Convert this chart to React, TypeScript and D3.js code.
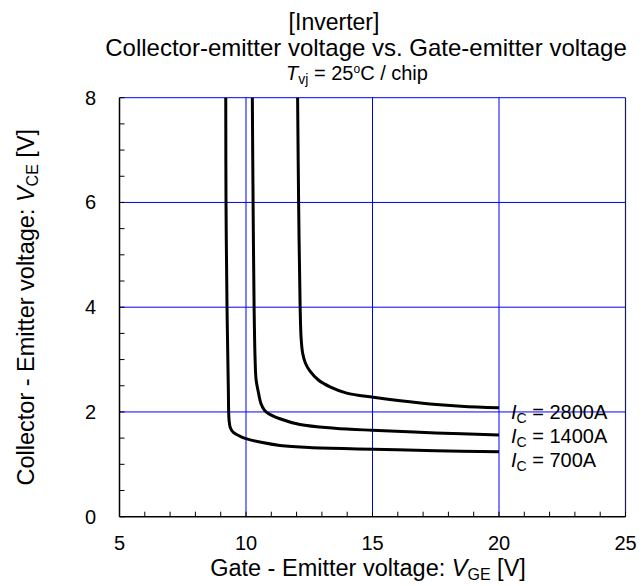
import React from "react";
import * as d3 from "d3";

const xTicks = [5, 10, 15, 20, 25];
const yTicks = [0, 2, 4, 6, 8];
const xGrid = [10, 15, 20];
const yGrid = [2, 4, 6, 8];

const curve700: [number, number][] = [
  [9.2, 8], [9.21, 6], [9.25, 4], [9.3, 2.5], [9.33, 1.85], [9.38, 1.7], [9.5, 1.61], [9.75, 1.54], [10, 1.49],
  [10.6, 1.42], [11.34, 1.36], [12.5, 1.32], [15, 1.29], [17.5, 1.26], [20, 1.24],
];
const curve1400: [number, number][] = [
  [10.25, 8], [10.28, 6], [10.32, 4], [10.36, 3], [10.4, 2.61], [10.5, 2.35], [10.59, 2.16], [10.72, 2.04], [10.88, 1.97],
  [11.34, 1.87], [12.13, 1.76], [13.5, 1.69], [15, 1.65], [17.5, 1.6], [20, 1.56],
];
const curve2800: [number, number][] = [
  [12.04, 8], [12.08, 6], [12.14, 4], [12.18, 3.4], [12.24, 3.12], [12.35, 2.93], [12.53, 2.78], [12.86, 2.61],
  [13.32, 2.48], [13.98, 2.36], [15.03, 2.28], [16.9, 2.17], [18.5, 2.11], [20, 2.08],
];
const series = [curve700, curve1400, curve2800];
const labels = ["2800A", "1400A", "700A"];

export default function App() {
  const W = 643, H = 586;
  const left = 119.5, right = 625.5, top = 97.7, bottom = 516.7;
  const x = d3.scaleLinear().domain([5, 25]).range([left, right]);
  const y = d3.scaleLinear().domain([0, 8]).range([bottom, top]);
  const lineX = d3.line<[number, number]>().x(d => x(d[0])).y(d => y(d[1])).curve(d3.curveCatmullRom.alpha(0.5));
  const xMinor = d3.range(5, 25.01, 1);
  const yMinor = d3.range(0, 8.01, 0.5);
  const font = "'Liberation Sans', Arial, sans-serif";
  return (
    <svg width={W} height={H} style={{ position: "absolute", left: 0, top: 0 }} fontFamily={font}>
      <rect width={W} height={H} fill="#fff" />
      {xGrid.map(v => (
        <line key={"gx" + v} x1={x(v)} x2={x(v)} y1={top} y2={bottom} stroke="#0000ff" strokeWidth={1} />
      ))}
      {yGrid.map(v => (
        <line key={"gy" + v} x1={left} x2={right} y1={y(v)} y2={y(v)} stroke="#0000ff" strokeWidth={1} />
      ))}
      <line x1={right} x2={right} y1={top} y2={bottom} stroke="#1a1a55" strokeWidth={1.2} />
      {xMinor.map(v => (
        <line key={"tx" + v} x1={x(v)} x2={x(v)} y1={bottom} y2={bottom - 5} stroke="#000" strokeWidth={1} />
      ))}
      {yMinor.map(v => (
        <line key={"ty" + v} x1={left} x2={left + 5} y1={y(v)} y2={y(v)} stroke="#000" strokeWidth={1} />
      ))}
      <line x1={left} x2={left} y1={top} y2={bottom} stroke="#000" strokeWidth={1.5} />
      <line x1={left} x2={right} y1={bottom} y2={bottom} stroke="#000" strokeWidth={1.5} />
      {series.map((s, i) => (
        <path key={i} d={lineX(s) || ""} fill="none" stroke="#000" strokeWidth={3} strokeLinejoin="round" />
      ))}
      {xTicks.map(v => (
        <text key={"xl" + v} x={x(v)} y={550} textAnchor="middle" fontSize={20}>{v}</text>
      ))}
      {yTicks.map(v => (
        <text key={"yl" + v} x={96} y={y(v) + 7} textAnchor="end" fontSize={20}>{v}</text>
      ))}
      {labels.map((l, i) => (
        <text key={"lab" + i} x={511} y={419 + i * 24} fontSize={20}>
          <tspan fontStyle="italic">I</tspan>
          <tspan fontSize={14} dy={4}>C</tspan>
          <tspan dy={-4}>{" = " + l}</tspan>
        </text>
      ))}
      <text x={368} y={576} textAnchor="middle" fontSize={23.5}>
        <tspan>Gate - Emitter voltage:  </tspan>
        <tspan fontStyle="italic">V</tspan>
        <tspan fontSize={16} dy={4}>GE</tspan>
        <tspan dy={-4}> [V]</tspan>
      </text>
      <text transform={`translate(34, ${(top + bottom) / 2}) rotate(-90)`} textAnchor="middle" fontSize={23.5}>
        <tspan>Collector - Emitter voltage:  </tspan>
        <tspan fontStyle="italic">V</tspan>
        <tspan fontSize={16} dy={4}>CE</tspan>
        <tspan dy={-4}> [V]</tspan>
      </text>
      <text x={334} y={30} textAnchor="middle" fontSize={23}>[Inverter]</text>
      <text x={366} y={56} textAnchor="middle" fontSize={24}>Collector-emitter voltage vs. Gate-emitter voltage</text>
      <text x={357} y={80} textAnchor="middle" fontSize={20}>
        <tspan fontStyle="italic">T</tspan>
        <tspan fontSize={14} dy={4}>vj</tspan>
        <tspan dy={-4}>{" = 25"}</tspan>
        <tspan fontSize={12} dy={-7}>o</tspan>
        <tspan dy={7}>C / chip</tspan>
      </text>
    </svg>
  );
}
